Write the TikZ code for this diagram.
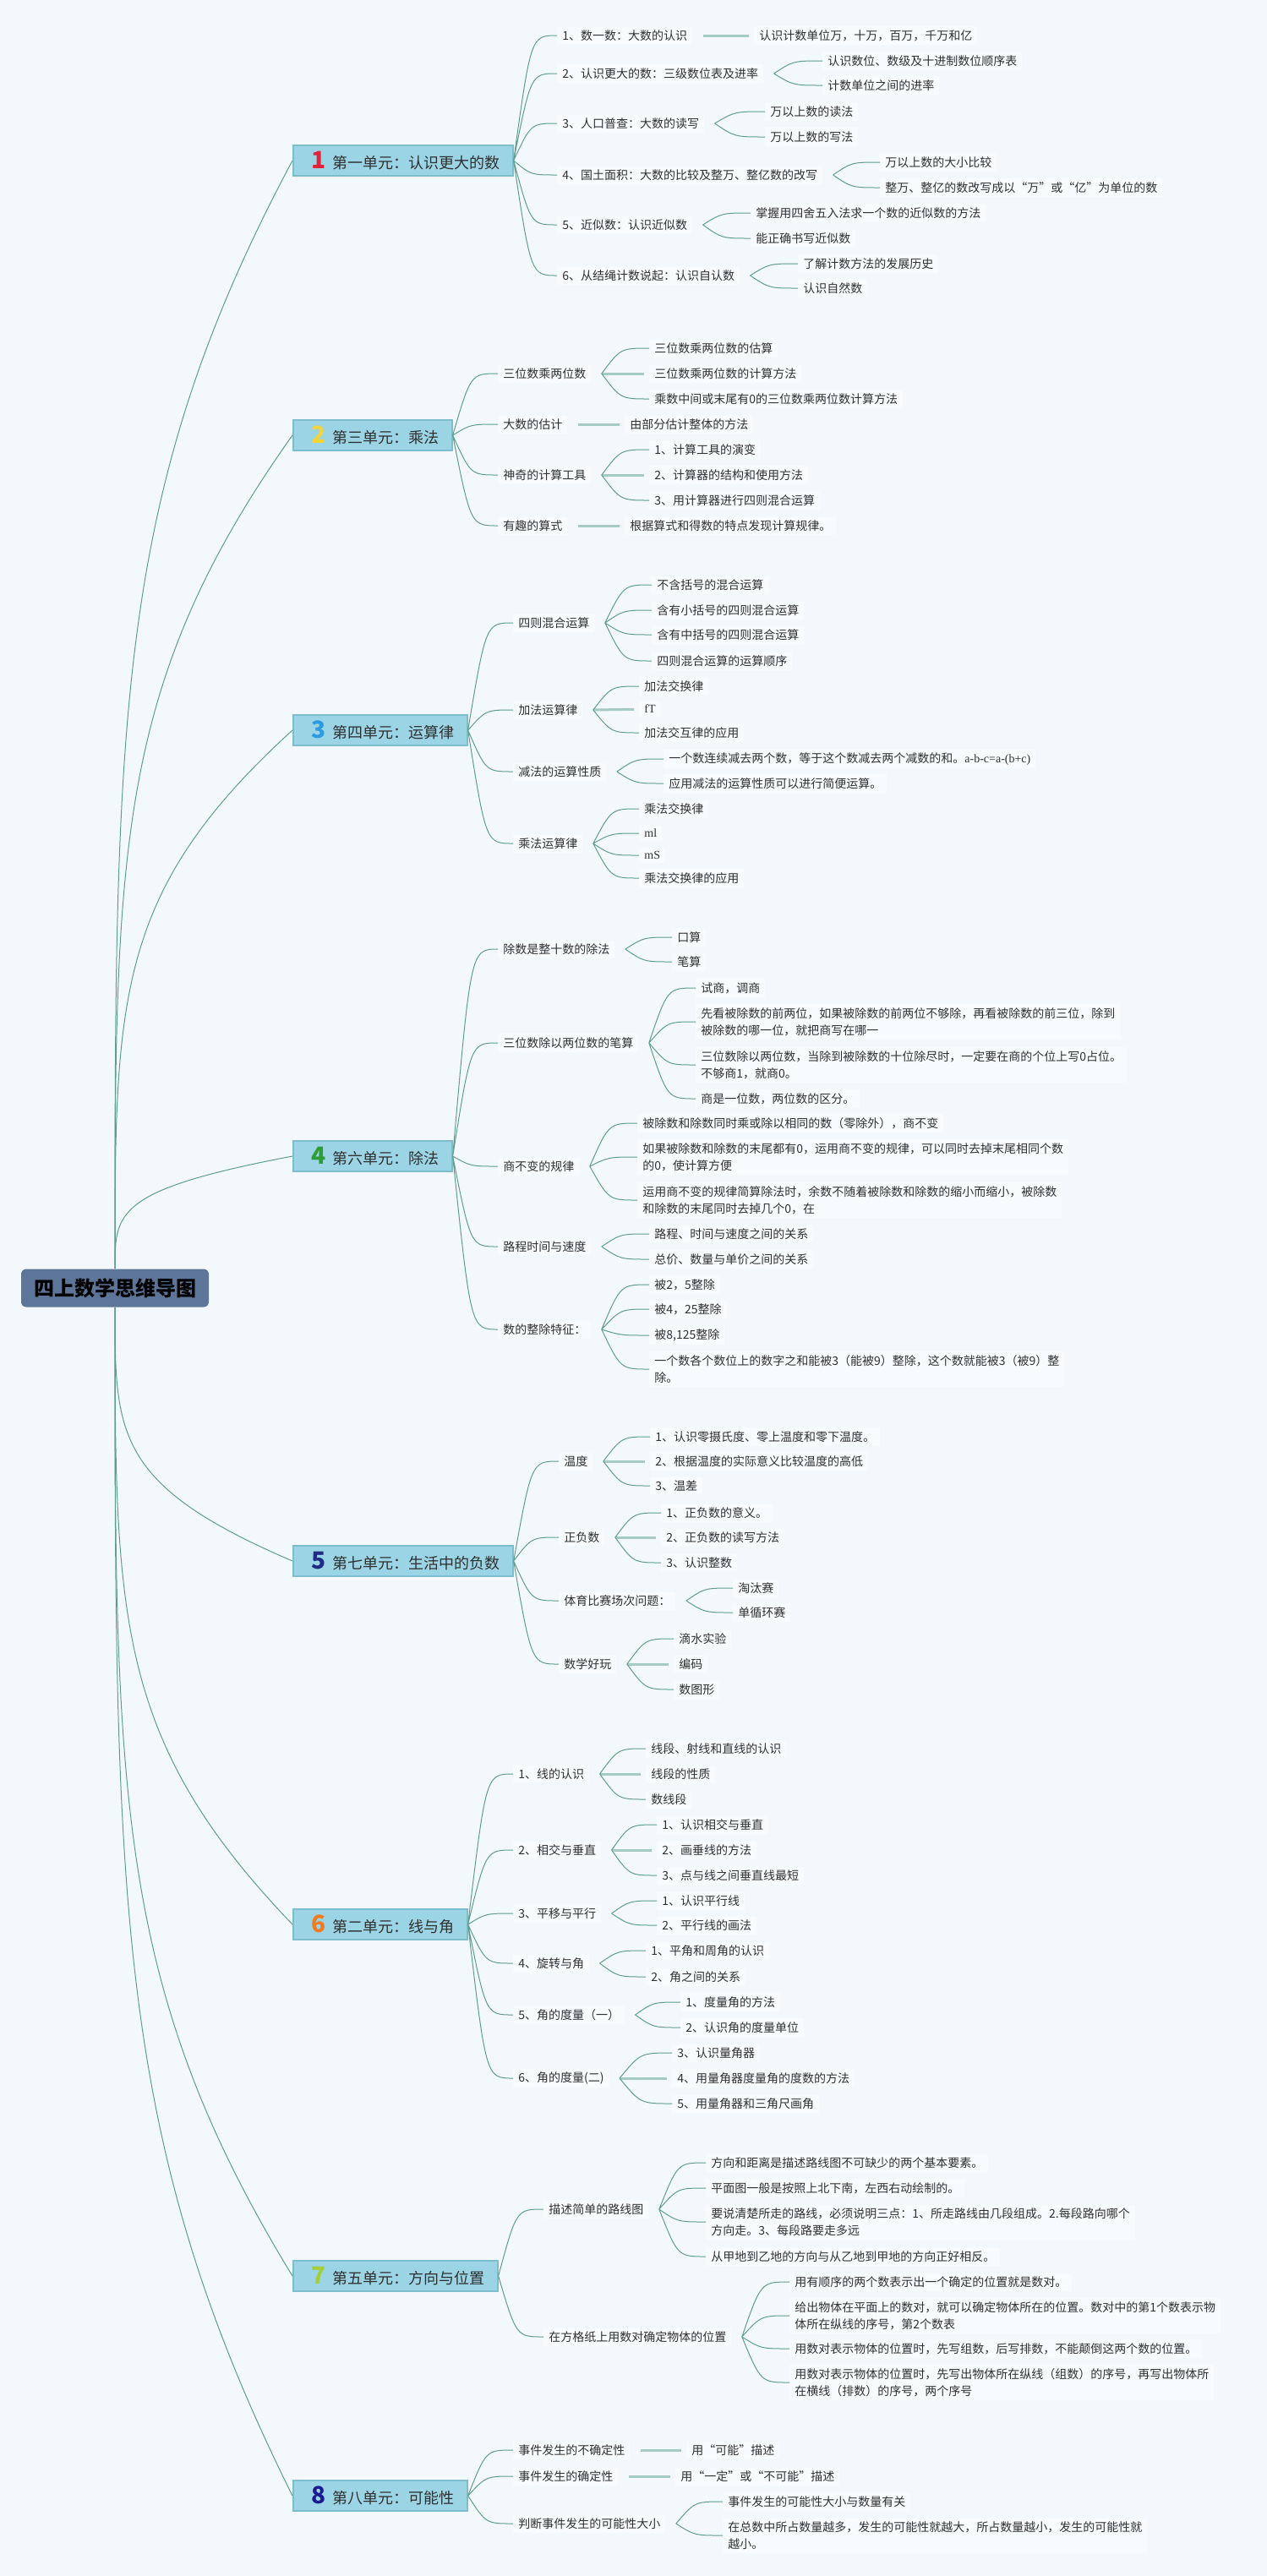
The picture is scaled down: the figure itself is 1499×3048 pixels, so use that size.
\documentclass[tikz,border=0pt]{standalone}
\usepackage{fontspec}
\setmainfont{Noto Sans CJK SC}
\newfontfamily\latinserif{Liberation Serif}
\usetikzlibrary{calc}

\definecolor{page_blue}{HTML}{F3F8FD}
\definecolor{root_blue}{HTML}{5C7598}
\definecolor{unit_blue}{HTML}{9BD4E4}
\definecolor{unit_edge}{HTML}{7DBDCE}
\definecolor{item_white}{HTML}{F8FBFE}
\definecolor{link_green}{HTML}{5F9E8C}
\definecolor{stub_green}{HTML}{A6CBC3}
\definecolor{ink_gray}{HTML}{303030}
\definecolor{no_red}{HTML}{E3233A}
\definecolor{no_yellow}{HTML}{F5D43A}
\definecolor{no_blue}{HTML}{2C9BE0}
\definecolor{no_green}{HTML}{2E9E34}
\definecolor{no_navy}{HTML}{1F2C86}
\definecolor{no_orange}{HTML}{F37B1D}
\definecolor{no_lime}{HTML}{A6CE39}
\definecolor{no_indigo}{HTML}{1B1B92}

\newcommand{\unitno}[2]{{\color{#1}\fontsize{14}{14}\selectfont\bfseries #2}}

\begin{document}
\begin{tikzpicture}[x=0.5pt, y=-0.5pt,
    root/.style={fill=root_blue, rounded corners=3pt, minimum width=111pt, minimum height=22.5pt, font=\fontsize{12}{14}\selectfont\bfseries, text=black},
    unit/.style={anchor=west, fill=unit_blue, draw=unit_edge, line width=0.8pt, minimum height=18pt, inner xsep=7.5pt, inner ysep=0pt, font=\fontsize{9}{11}\selectfont, text=ink_gray},
    item/.style={anchor=west, fill=item_white, inner xsep=3pt, inner ysep=2pt, align=left, font=\fontsize{7}{10}\selectfont, text=ink_gray},
    trunk/.style={draw=link_green, line width=0.5pt, to path={.. controls ($(\tikztostart)!0.5!(\tikztostart |- \tikztotarget)$) and ($(\tikztostart |- \tikztotarget)!0.3!(\tikztostart)$) .. (\tikztotarget)}},
    branch/.style={draw=link_green, line width=0.5pt, to path={.. controls ($(\tikztostart |- \tikztotarget)!0.4!(\tikztotarget)$) .. (\tikztotarget)}},
    stub/.style={draw=stub_green, line width=1.5pt, shorten >=3pt}]
   \useasboundingbox (0, 0) rectangle (1499, 3048);
   \fill [page_blue] (0, 0) rectangle (1499, 3048);
   % the root
   \node [root] (root) at (136, 1524) {四上数学思维导图};

   % unit 1
   \node [unit] (u1) at (346, 190) {\hspace{3.5pt}\unitno{no_red}{1}\hspace{4pt}第一单元：认识更大的数};
   \node [item] (u1a) at (659, 42) {1、数一数：大数的认识};
   \node [item] (u1b) at (659, 87) {2、认识更大的数：三级数位表及进率};
   \node [item] (u1c) at (659, 146) {3、人口普查：大数的读写};
   \node [item] (u1d) at (659, 207) {4、国土面积：大数的比较及整万、整亿数的改写};
   \node [item] (u1e) at (659, 266) {5、近似数：认识近似数};
   \node [item] (u1f) at (659, 326) {6、从结绳计数说起：认识自认数};
   \node [item] (u1a1) at (892, 42) {认识计数单位万，十万，百万，千万和亿};
   \node [item] (u1b1) at (973, 72) {认识数位、数级及十进制数位顺序表};
   \node [item] (u1b2) at (973, 101) {计数单位之间的进率};
   \node [item] (u1c1) at (905, 132) {万以上数的读法};
   \node [item] (u1c2) at (905, 162) {万以上数的写法};
   \node [item] (u1d1) at (1041, 192) {万以上数的大小比较};
   \node [item] (u1d2) at (1041, 222) {整万、整亿的数改写成以“万”或“亿”为单位的数};
   \node [item] (u1e1) at (888, 252) {掌握用四舍五入法求一个数的近似数的方法};
   \node [item] (u1e2) at (888, 282) {能正确书写近似数};
   \node [item] (u1f1) at (944, 312) {了解计数方法的发展历史};
   \node [item] (u1f2) at (944, 341) {认识自然数};
   \path ([xshift=6pt]u1a.east) coordinate (u1af) ([xshift=6pt]u1b.east) coordinate (u1bf) ([xshift=6pt]u1c.east) coordinate (u1cf)
         ([xshift=6pt]u1d.east) coordinate (u1df) ([xshift=6pt]u1e.east) coordinate (u1ef) ([xshift=6pt]u1f.east) coordinate (u1ff);
   \draw [trunk] (root.north) to (u1.west);
   \draw [branch] (u1.east) to (u1a.west) (u1.east) to (u1b.west) (u1.east) to (u1c.west)
                  (u1.east) to (u1d.west) (u1.east) to (u1e.west) (u1.east) to (u1f.west);
   \draw [stub] (u1af) -- (u1a1);
   \draw [branch] (u1bf) to (u1b1.west) (u1bf) to (u1b2.west) (u1cf) to (u1c1.west) (u1cf) to (u1c2.west)
                  (u1df) to (u1d1.west) (u1df) to (u1d2.west) (u1ef) to (u1e1.west) (u1ef) to (u1e2.west)
                  (u1ff) to (u1f1.west) (u1ff) to (u1f2.west);

   % unit 2
   \node [unit] (u2) at (346, 515) {\hspace{3.5pt}\unitno{no_yellow}{2}\hspace{4pt}第三单元：乘法};
   \node [item] (u2a) at (589, 442) {三位数乘两位数};
   \node [item] (u2b) at (589, 502) {大数的估计};
   \node [item] (u2c) at (589, 562) {神奇的计算工具};
   \node [item] (u2d) at (589, 622) {有趣的算式};
   \node [item] (u2a1) at (768, 412) {三位数乘两位数的估算};
   \node [item] (u2a2) at (768, 442) {三位数乘两位数的计算方法};
   \node [item] (u2a3) at (768, 472) {乘数中间或末尾有0的三位数乘两位数计算方法};
   \node [item] (u2b1) at (739, 502) {由部分估计整体的方法};
   \node [item] (u2c1) at (768, 532) {1、计算工具的演变};
   \node [item] (u2c2) at (768, 562) {2、计算器的结构和使用方法};
   \node [item] (u2c3) at (768, 592) {3、用计算器进行四则混合运算};
   \node [item] (u2d1) at (739, 622) {根据算式和得数的特点发现计算规律。};
   \path ([xshift=6pt]u2a.east) coordinate (u2af) ([xshift=6pt]u2b.east) coordinate (u2bf)
         ([xshift=6pt]u2c.east) coordinate (u2cf) ([xshift=6pt]u2d.east) coordinate (u2df);
   \draw [trunk] (root.north) to (u2.west);
   \draw [branch] (u2.east) to (u2a.west) (u2.east) to (u2b.west) (u2.east) to (u2c.west) (u2.east) to (u2d.west);
   \draw [stub] (u2af) -- (u2a2);
   \draw [stub] (u2bf) -- (u2b1);
   \draw [stub] (u2cf) -- (u2c2);
   \draw [stub] (u2df) -- (u2d1);
   \draw [branch] (u2af) to (u2a1.west) (u2af) to (u2a3.west) (u2cf) to (u2c1.west) (u2cf) to (u2c3.west);

   % unit 3
   \node [unit] (u3) at (346, 864) {\hspace{3.5pt}\unitno{no_blue}{3}\hspace{4pt}第四单元：运算律};
   \node [item] (u3a) at (607, 737) {四则混合运算};
   \node [item] (u3b) at (607, 840) {加法运算律};
   \node [item] (u3c) at (607, 913) {减法的运算性质};
   \node [item] (u3d) at (607, 998) {乘法运算律};
   \node [item] (u3a1) at (771, 692) {不含括号的混合运算};
   \node [item] (u3a2) at (771, 722) {含有小括号的四则混合运算};
   \node [item] (u3a3) at (771, 751) {含有中括号的四则混合运算};
   \node [item] (u3a4) at (771, 782) {四则混合运算的运算顺序};
   \node [item] (u3b1) at (756, 812) {加法交换律};
   \node [item] (u3b2) at (756, 839) {\latinserif fT};
   \node [item] (u3b3) at (756, 867) {加法交互律的应用};
   \node [item] (u3c1) at (785, 898) {一个数连续减去两个数，等于这个数减去两个减数的和。{\latinserif a-b-c=a-(b+c)}};
   \node [item] (u3c2) at (785, 927) {应用减法的运算性质可以进行简便运算。};
   \node [item] (u3d1) at (756, 957) {乘法交换律};
   \node [item] (u3d2) at (756, 986) {\latinserif ml};
   \node [item] (u3d3) at (756, 1012) {\latinserif mS};
   \node [item] (u3d4) at (756, 1039) {乘法交换律的应用};
   \path ([xshift=6pt]u3a.east) coordinate (u3af) ([xshift=6pt]u3b.east) coordinate (u3bf)
         ([xshift=6pt]u3c.east) coordinate (u3cf) ([xshift=6pt]u3d.east) coordinate (u3df);
   \draw [trunk] (root.north) to (u3.west);
   \draw [branch] (u3.east) to (u3a.west) (u3.east) to (u3b.west) (u3.east) to (u3c.west) (u3.east) to (u3d.west);
   \draw [stub] (u3bf) -- (u3b2);
   \draw [branch] (u3af) to (u3a1.west) (u3af) to (u3a2.west) (u3af) to (u3a3.west) (u3af) to (u3a4.west)
                  (u3bf) to (u3b1.west) (u3bf) to (u3b3.west) (u3cf) to (u3c1.west) (u3cf) to (u3c2.west)
                  (u3df) to (u3d1.west) (u3df) to (u3d2.west) (u3df) to (u3d3.west) (u3df) to (u3d4.west);

   % unit 4
   \node [unit] (u4) at (346, 1368) {\hspace{3.5pt}\unitno{no_green}{4}\hspace{4pt}第六单元：除法};
   \node [item] (u4a) at (589, 1123) {除数是整十数的除法};
   \node [item] (u4b) at (589, 1234) {三位数除以两位数的笔算};
   \node [item] (u4c) at (589, 1380) {商不变的规律};
   \node [item] (u4d) at (589, 1475) {路程时间与速度};
   \node [item] (u4e) at (589, 1573) {数的整除特征：};
   \node [item] (u4a1) at (795, 1109) {口算};
   \node [item] (u4a2) at (795, 1138) {笔算};
   \node [item] (u4b1) at (823, 1169) {试商，调商};
   \node [item] (u4b2) at (823, 1209) {先看被除数的前两位，如果被除数的前两位不够除，再看被除数的前三位，除到\\被除数的哪一位，就把商写在哪一};
   \node [item] (u4b3) at (823, 1260) {三位数除以两位数，当除到被除数的十位除尽时，一定要在商的个位上写0占位。\\不够商1，就商0。};
   \node [item] (u4b4) at (823, 1300) {商是一位数，两位数的区分。};
   \node [item] (u4c1) at (754, 1329) {被除数和除数同时乘或除以相同的数（零除外），商不变};
   \node [item] (u4c2) at (754, 1369) {如果被除数和除数的末尾都有0，运用商不变的规律，可以同时去掉末尾相同个数\\的0，使计算方便};
   \node [item] (u4c3) at (754, 1420) {运用商不变的规律简算除法时，余数不随着被除数和除数的缩小而缩小，被除数\\和除数的末尾同时去掉几个0，在};
   \node [item] (u4d1) at (768, 1460) {路程、时间与速度之间的关系};
   \node [item] (u4d2) at (768, 1490) {总价、数量与单价之间的关系};
   \node [item] (u4e1) at (768, 1520) {被2，5整除};
   \node [item] (u4e2) at (768, 1549) {被4，25整除};
   \node [item] (u4e3) at (768, 1580) {被8,125整除};
   \node [item] (u4e4) at (768, 1620) {一个数各个数位上的数字之和能被3（能被9）整除，这个数就能被3（被9）整\\除。};
   \path ([xshift=6pt]u4a.east) coordinate (u4af) ([xshift=6pt]u4b.east) coordinate (u4bf) ([xshift=6pt]u4c.east) coordinate (u4cf)
         ([xshift=6pt]u4d.east) coordinate (u4df) ([xshift=6pt]u4e.east) coordinate (u4ef);
   \draw [trunk] (root.north) to (u4.west);
   \draw [branch] (u4.east) to (u4a.west) (u4.east) to (u4b.west) (u4.east) to (u4c.west)
                  (u4.east) to (u4d.west) (u4.east) to (u4e.west);
   \draw [branch] (u4af) to (u4a1.west) (u4af) to (u4a2.west)
                  (u4bf) to (u4b1.west) (u4bf) to (u4b2.west) (u4bf) to (u4b3.west) (u4bf) to (u4b4.west)
                  (u4cf) to (u4c1.west) (u4cf) to (u4c2.west) (u4cf) to (u4c3.west)
                  (u4df) to (u4d1.west) (u4df) to (u4d2.west)
                  (u4ef) to (u4e1.west) (u4ef) to (u4e2.west) (u4ef) to (u4e3.west) (u4ef) to (u4e4.west);

   % unit 5
   \node [unit] (u5) at (346, 1847) {\hspace{3.5pt}\unitno{no_navy}{5}\hspace{4pt}第七单元：生活中的负数};
   \node [item] (u5a) at (661, 1729) {温度};
   \node [item] (u5b) at (661, 1819) {正负数};
   \node [item] (u5c) at (661, 1894) {体育比赛场次问题：};
   \node [item] (u5d) at (661, 1969) {数学好玩};
   \node [item] (u5a1) at (769, 1700) {1、认识零摄氏度、零上温度和零下温度。};
   \node [item] (u5a2) at (769, 1729) {2、根据温度的实际意义比较温度的高低};
   \node [item] (u5a3) at (769, 1758) {3、温差};
   \node [item] (u5b1) at (782, 1790) {1、正负数的意义。};
   \node [item] (u5b2) at (782, 1819) {2、正负数的读写方法};
   \node [item] (u5b3) at (782, 1849) {3、认识整数};
   \node [item] (u5c1) at (867, 1879) {淘汰赛};
   \node [item] (u5c2) at (867, 1908) {单循环赛};
   \node [item] (u5d1) at (797, 1939) {滴水实验};
   \node [item] (u5d2) at (797, 1969) {编码};
   \node [item] (u5d3) at (797, 1999) {数图形};
   \path ([xshift=6pt]u5a.east) coordinate (u5af) ([xshift=6pt]u5b.east) coordinate (u5bf)
         ([xshift=6pt]u5c.east) coordinate (u5cf) ([xshift=6pt]u5d.east) coordinate (u5df);
   \draw [trunk] (root.south) to (u5.west);
   \draw [branch] (u5.east) to (u5a.west) (u5.east) to (u5b.west) (u5.east) to (u5c.west) (u5.east) to (u5d.west);
   \draw [stub] (u5af) -- (u5a2);
   \draw [stub] (u5bf) -- (u5b2);
   \draw [stub] (u5df) -- (u5d2);
   \draw [branch] (u5af) to (u5a1.west) (u5af) to (u5a3.west) (u5bf) to (u5b1.west) (u5bf) to (u5b3.west)
                  (u5cf) to (u5c1.west) (u5cf) to (u5c2.west) (u5df) to (u5d1.west) (u5df) to (u5d3.west);

   % unit 6
   \node [unit] (u6) at (346, 2277) {\hspace{3.5pt}\unitno{no_orange}{6}\hspace{4pt}第二单元：线与角};
   \node [item] (u6a) at (607, 2099) {1、线的认识};
   \node [item] (u6b) at (607, 2189) {2、相交与垂直};
   \node [item] (u6c) at (607, 2264) {3、平移与平行};
   \node [item] (u6d) at (607, 2323) {4、旋转与角};
   \node [item] (u6e) at (607, 2384) {5、角的度量（一）};
   \node [item] (u6f) at (607, 2459) {6、角的度量(二)};
   \node [item] (u6a1) at (764, 2069) {线段、射线和直线的认识};
   \node [item] (u6a2) at (764, 2099) {线段的性质};
   \node [item] (u6a3) at (764, 2129) {数线段};
   \node [item] (u6b1) at (777, 2159) {1、认识相交与垂直};
   \node [item] (u6b2) at (777, 2189) {2、画垂线的方法};
   \node [item] (u6b3) at (777, 2219) {3、点与线之间垂直线最短};
   \node [item] (u6c1) at (777, 2249) {1、认识平行线};
   \node [item] (u6c2) at (777, 2278) {2、平行线的画法};
   \node [item] (u6d1) at (764, 2308) {1、平角和周角的认识};
   \node [item] (u6d2) at (764, 2339) {2、角之间的关系};
   \node [item] (u6e1) at (805, 2369) {1、度量角的方法};
   \node [item] (u6e2) at (805, 2399) {2、认识角的度量单位};
   \node [item] (u6f1) at (795, 2429) {3、认识量角器};
   \node [item] (u6f2) at (795, 2459) {4、用量角器度量角的度数的方法};
   \node [item] (u6f3) at (795, 2489) {5、用量角器和三角尺画角};
   \path ([xshift=6pt]u6a.east) coordinate (u6af) ([xshift=6pt]u6b.east) coordinate (u6bf) ([xshift=6pt]u6c.east) coordinate (u6cf)
         ([xshift=6pt]u6d.east) coordinate (u6df) ([xshift=6pt]u6e.east) coordinate (u6ef) ([xshift=6pt]u6f.east) coordinate (u6ff);
   \draw [trunk] (root.south) to (u6.west);
   \draw [branch] (u6.east) to (u6a.west) (u6.east) to (u6b.west) (u6.east) to (u6c.west)
                  (u6.east) to (u6d.west) (u6.east) to (u6e.west) (u6.east) to (u6f.west);
   \draw [stub] (u6af) -- (u6a2);
   \draw [stub] (u6bf) -- (u6b2);
   \draw [stub] (u6ff) -- (u6f2);
   \draw [branch] (u6af) to (u6a1.west) (u6af) to (u6a3.west) (u6bf) to (u6b1.west) (u6bf) to (u6b3.west)
                  (u6cf) to (u6c1.west) (u6cf) to (u6c2.west) (u6df) to (u6d1.west) (u6df) to (u6d2.west)
                  (u6ef) to (u6e1.west) (u6ef) to (u6e2.west) (u6ff) to (u6f1.west) (u6ff) to (u6f3.west);

   % unit 7
   \node [unit] (u7) at (346, 2693) {\hspace{3.5pt}\unitno{no_lime}{7}\hspace{4pt}第五单元：方向与位置};
   \node [item] (u7a) at (643, 2614) {描述简单的路线图};
   \node [item] (u7b) at (643, 2765) {在方格纸上用数对确定物体的位置};
   \node [item] (u7a1) at (835, 2559) {方向和距离是描述路线图不可缺少的两个基本要素。};
   \node [item] (u7a2) at (835, 2589) {平面图一般是按照上北下南，左西右动绘制的。};
   \node [item] (u7a3) at (835, 2629) {要说清楚所走的路线，必须说明三点：1、所走路线由几段组成。2.每段路向哪个\\方向走。3、每段路要走多远};
   \node [item] (u7a4) at (835, 2670) {从甲地到乙地的方向与从乙地到甲地的方向正好相反。};
   \node [item] (u7b1) at (934, 2700) {用有顺序的两个数表示出一个确定的位置就是数对。};
   \node [item] (u7b2) at (934, 2740) {给出物体在平面上的数对，就可以确定物体所在的位置。数对中的第1个数表示物\\体所在纵线的序号，第2个数表};
   \node [item] (u7b3) at (934, 2779) {用数对表示物体的位置时，先写组数，后写排数，不能颠倒这两个数的位置。};
   \node [item] (u7b4) at (934, 2819) {用数对表示物体的位置时，先写出物体所在纵线（组数）的序号，再写出物体所\\在横线（排数）的序号，两个序号};
   \path ([xshift=6pt]u7a.east) coordinate (u7af) ([xshift=6pt]u7b.east) coordinate (u7bf);
   \draw [trunk] (root.south) to (u7.west);
   \draw [branch] (u7.east) to (u7a.west) (u7.east) to (u7b.west);
   \draw [branch] (u7af) to (u7a1.west) (u7af) to (u7a2.west) (u7af) to (u7a3.west) (u7af) to (u7a4.west)
                  (u7bf) to (u7b1.west) (u7bf) to (u7b2.west) (u7bf) to (u7b3.west) (u7bf) to (u7b4.west);

   % unit 8
   \node [unit] (u8) at (346, 2953) {\hspace{3.5pt}\unitno{no_indigo}{8}\hspace{4pt}第八单元：可能性};
   \node [item] (u8a) at (607, 2899) {事件发生的不确定性};
   \node [item] (u8b) at (607, 2930) {事件发生的确定性};
   \node [item] (u8c) at (607, 2986) {判断事件发生的可能性大小};
   \node [item] (u8a1) at (812, 2899) {用“可能”描述};
   \node [item] (u8b1) at (799, 2930) {用“一定”或“不可能”描述};
   \node [item] (u8c1) at (855, 2960) {事件发生的可能性大小与数量有关};
   \node [item] (u8c2) at (855, 3000) {在总数中所占数量越多，发生的可能性就越大，所占数量越小，发生的可能性就\\越小。};
   \path ([xshift=6pt]u8a.east) coordinate (u8af) ([xshift=6pt]u8b.east) coordinate (u8bf) ([xshift=6pt]u8c.east) coordinate (u8cf);
   \draw [trunk] (root.south) to (u8.west);
   \draw [branch] (u8.east) to (u8a.west) (u8.east) to (u8b.west) (u8.east) to (u8c.west);
   \draw [stub] (u8af) -- (u8a1);
   \draw [stub] (u8bf) -- (u8b1);
   \draw [branch] (u8cf) to (u8c1.west) (u8cf) to (u8c2.west);
\end{tikzpicture}
\end{document}
